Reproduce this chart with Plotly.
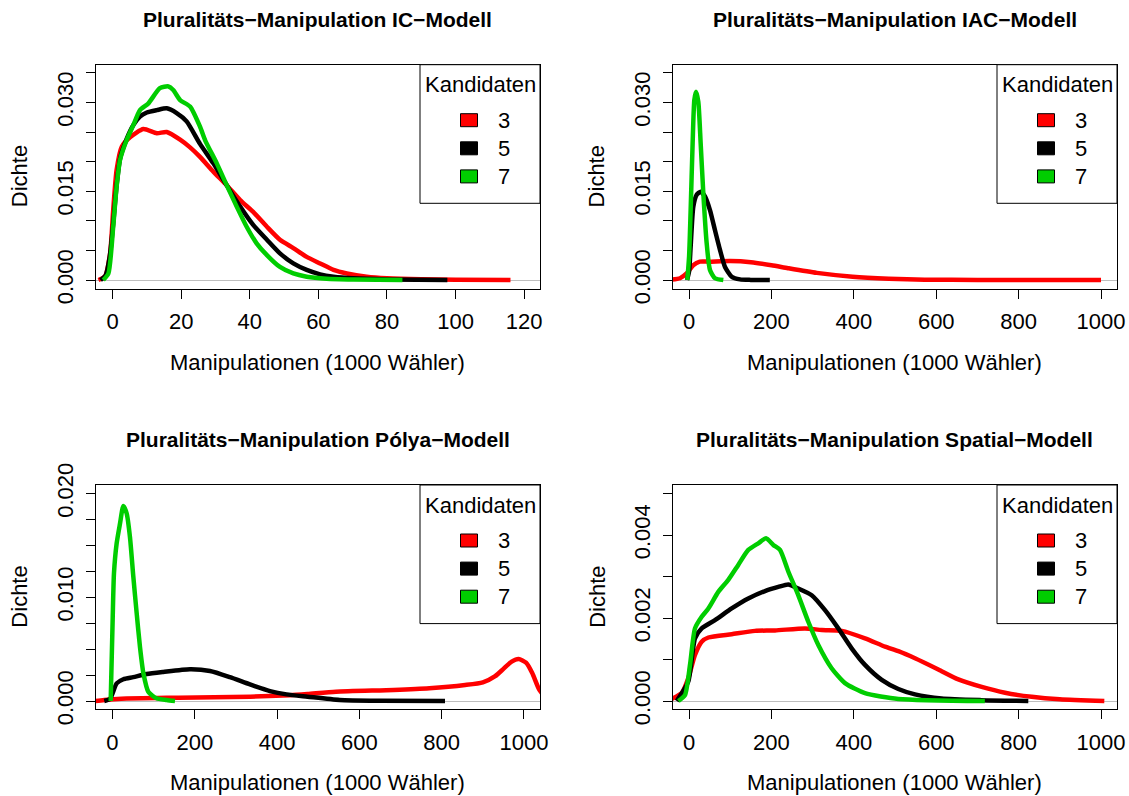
import plotly.graph_objects as go

W, H = 1129, 796

# ---------------- data ----------------
# IC model
ic_x3 = [-4.1, -2.2, -0.7, 0.2, 1.2, 2.7, 5.1, 9.0, 12.9, 15.8, 19.7, 22.6, 25.5, 29.4, 33.3, 37.2, 41.0,
         45.0, 48.8, 52.7, 56.6, 60.5, 64.4, 68.3, 74.1, 80, 90, 100, 116]
ic_y3 = [0, 0.0006, 0.0045, 0.0118, 0.0186, 0.0225, 0.0241, 0.0255, 0.0248, 0.0250, 0.0237, 0.0224, 0.0208,
         0.0183, 0.0160, 0.0135, 0.0115, 0.0090, 0.0068, 0.0054, 0.0039, 0.0028, 0.0017, 0.0011, 0.00056,
         0.0003, 0.00012, 0.00005, 0.0]
ic_x5 = [-3.5, -2.0, -0.8, 0.2, 1.2, 2.2, 4.1, 6.1, 8.0, 10.0, 12.9, 15.8, 18.7, 21.6, 25.5, 29.4, 33.3,
         37.2, 41.0, 45.0, 48.8, 52.7, 56.6, 60.5, 64.4, 70.2, 80, 97.6]
ic_y5 = [0, 0.0008, 0.0040, 0.0095, 0.0160, 0.0205, 0.0238, 0.0262, 0.0276, 0.0283, 0.0287, 0.0290, 0.0282,
         0.0268, 0.0230, 0.0197, 0.0160, 0.0124, 0.0093, 0.0068, 0.0045, 0.0028, 0.0017, 0.00096, 0.00056,
         0.00028, 0.0001, 0.0]
ic_x7 = [-2.7, -1.2, 0.2, 1.2, 2.2, 4.1, 6.1, 8.0, 10.4, 13.8, 16.3, 17.7, 19.7, 22.6, 25.5, 27.0, 30.4,
         33.3, 36.2, 39.1, 42.0, 45.0, 48.8, 52.7, 56.6, 62.4, 70.2, 84.5]
ic_y7 = [0, 0.0011, 0.0090, 0.0158, 0.0203, 0.0236, 0.0262, 0.0287, 0.0298, 0.0324, 0.0327, 0.0321, 0.0304,
         0.0293, 0.0259, 0.0236, 0.0197, 0.0160, 0.0124, 0.0090, 0.0062, 0.0042, 0.0022, 0.0011, 0.00056,
         0.00023, 0.0001, 0.0]

# IAC model
iac_x3 = [-45, -22, -6, 10, 26, 48, 100, 150, 200, 240, 310, 397, 485, 572, 700, 850, 1000]
iac_y3 = [0.00005, 0.0003, 0.0011, 0.0025, 0.0031, 0.0031, 0.0032, 0.0030, 0.0025, 0.0020, 0.0012, 0.00056,
          0.00023, 0.00006, 0.00002, 0.0, 0.0]
iac_x5 = [-5, 0, 3.8, 10.3, 18.4, 28.1, 38.6, 50.7, 62.9, 75.0, 87.2, 103.4, 123.6, 150, 196]
iac_y5 = [0, 0.0015, 0.0056, 0.0124, 0.0144, 0.0149, 0.0141, 0.0118, 0.0084, 0.0051, 0.0022, 0.00056,
          0.0001, 0.00002, 0]
iac_x7 = [-4.3, 0, 3.8, 8.6, 12.7, 16.8, 22.4, 28.1, 34.6, 42.7, 50.7, 62.9, 83.1]
iac_y7 = [0, 0.004, 0.0118, 0.0231, 0.0304, 0.0318, 0.0301, 0.0231, 0.0146, 0.0062, 0.0017, 0.0003, 0]

# Polya model
pol_x3 = [-42, -20, 21.7, 161, 335, 431, 474, 543, 683, 770, 857, 900, 930, 950, 970, 987, 1005, 1020,
          1037, 1060]
pol_y3 = [0, 0.0001, 0.00022, 0.00032, 0.00042, 0.00055, 0.00067, 0.0009, 0.00106, 0.00122, 0.00154, 0.0018,
          0.0024, 0.0031, 0.0038, 0.00405, 0.0037, 0.0027, 0.0011, 0.0]
pol_x5 = [-20, -6, 10.1, 26.3, 50.6, 83, 123.5, 188.3, 237, 285.5, 334, 382.7, 423, 474, 552, 650, 808]
pol_y5 = [0, 0.0002, 0.0017, 0.0021, 0.0023, 0.0026, 0.0028, 0.00306, 0.0029, 0.0023, 0.0016, 0.00096,
          0.00064, 0.00042, 0.0001, 0.00002, 0]
pol_x7 = [-4.4, 0.4, 3.6, 10.1, 18.2, 26.3, 34.4, 42.5, 50.6, 58.7, 66.8, 75, 87, 107, 131.7, 151.9]
pol_y7 = [0, 0.0078, 0.0123, 0.0152, 0.0171, 0.0188, 0.0181, 0.0158, 0.0120, 0.0085, 0.0052, 0.0027, 0.0009,
          0.00026, 0.0001, 0.0]

# Spatial model
sp_x3 = [-42, -18, -2, 14.3, 30.6, 46.8, 103.4, 160, 208.5, 281.4, 322, 370.5, 427, 475.6, 508, 548.4, 605,
         653.6, 710.4, 767, 831.8, 900, 1008]
sp_y3 = [0.00005, 0.00019, 0.00055, 0.00111, 0.00143, 0.00153, 0.00161, 0.00169, 0.0017, 0.00175, 0.00171,
         0.00169, 0.00151, 0.00131, 0.0012, 0.00103, 0.00076, 0.00052, 0.00034, 0.0002, 0.0001, 0.00004, 0.0]
sp_x5 = [-30, -2, 14.3, 30.6, 62.9, 103.4, 143.7, 184.3, 216.6, 240.8, 265, 297.6, 330, 362.2, 394.6, 427,
         467.6, 508, 548.4, 613, 710, 823.5]
sp_y5 = [0, 0.00047, 0.00151, 0.00175, 0.00195, 0.00223, 0.00247, 0.00265, 0.00275, 0.00281, 0.00271,
         0.00255, 0.00219, 0.00175, 0.00127, 0.00087, 0.00051, 0.00029, 0.00016, 0.00006, 0.00002, 0]
sp_x7 = [-26, -10, 2.2, 14.3, 30.6, 46.8, 70.9, 95.2, 119.4, 143.7, 168, 186.7, 204.4, 220.7, 240.8, 265,
         289.4, 313.7, 346, 378.5, 427, 508, 718]
sp_y7 = [0, 0.00014, 0.00087, 0.00175, 0.00203, 0.00223, 0.00263, 0.00292, 0.00328, 0.00364, 0.0038,
         0.00392, 0.00376, 0.00364, 0.00312, 0.00255, 0.00191, 0.00135, 0.00079, 0.00043, 0.00019, 0.00005, 0]

titles = ["Pluralitäts\u2212Manipulation IC\u2212Modell",
          "Pluralitäts\u2212Manipulation IAC\u2212Modell",
          "Pluralitäts\u2212Manipulation Pólya\u2212Modell",
          "Pluralitäts\u2212Manipulation Spatial\u2212Modell"]
x_label = "Manipulationen (1000 Wähler)"
y_label = "Dichte"
legend_title = "Kandidaten"
candidates = ["3", "5", "7"]
colors = ["#FF0000", "#000000", "#00CD00"]

x_ticks_ic = [0, 20, 40, 60, 80, 100, 120]
x_ticks_big = [0, 200, 400, 600, 800, 1000]
# labelled y ticks and all y tick marks
y_lab_a = [0, 0.015, 0.030]
y_txt_a = ["0.000", "0.015", "0.030"]
y_all_a = [0, 0.005, 0.010, 0.015, 0.020, 0.025, 0.030, 0.035]
y_lab_c = [0, 0.010, 0.020]
y_txt_c = ["0.000", "0.010", "0.020"]
y_all_c = [0, 0.0025, 0.005, 0.0075, 0.010, 0.0125, 0.015, 0.0175, 0.020]
y_lab_d = [0, 0.002, 0.004]
y_txt_d = ["0.000", "0.002", "0.004"]
y_all_d = [0, 0.001, 0.002, 0.003, 0.004, 0.005]

panels = [
    dict(series=[(ic_x3, ic_y3), (ic_x5, ic_y5), (ic_x7, ic_y7)], xr=[-4.9, 124.6], yr=[-0.00147, 0.03637],
         xt=x_ticks_ic, yl=y_lab_a, ytt=y_txt_a, ya=y_all_a),
    dict(series=[(iac_x3, iac_y3), (iac_x5, iac_y5), (iac_x7, iac_y7)], xr=[-39.3, 1038.8], yr=[-0.00147, 0.03637],
         xt=x_ticks_big, yl=y_lab_a, ytt=y_txt_a, ya=y_all_a),
    dict(series=[(pol_x3, pol_y3), (pol_x5, pol_y5), (pol_x7, pol_y7)], xr=[-40.8, 1038.9], yr=[-0.0008, 0.02083],
         xt=x_ticks_big, yl=y_lab_c, ytt=y_txt_c, ya=y_all_c),
    dict(series=[(sp_x3, sp_y3), (sp_x5, sp_y5), (sp_x7, sp_y7)], xr=[-39.3, 1038.8], yr=[-0.0002, 0.005205],
         xt=x_ticks_big, yl=y_lab_d, ytt=y_txt_d, ya=y_all_d),
]

# plot-region boxes in pixels (left, right, top, bottom)
boxes = [(95.7, 540.0, 64.7, 288.7), (672.9, 1117.0, 64.7, 288.7),
         (95.7, 540.0, 485.0, 709.3), (672.9, 1117.0, 485.0, 709.3)]

FONT = "Liberation Sans, Arial, Helvetica, sans-serif"
FS = 22


def px(x):
    return x / W


def py(y):
    return 1 - y / H


fig = go.Figure()
layout = dict(template="none", width=W, height=H, autosize=False,
              margin=dict(l=0, r=0, t=0, b=0, pad=0, autoexpand=False), paper_bgcolor="white",
              plot_bgcolor="white", showlegend=False, font=dict(family=FONT, size=FS, color="black"))
annotations = []
shapes = []

for i, (p, b) in enumerate(zip(panels, boxes)):
    n = "" if i == 0 else str(i + 1)
    L, R, T, B = b
    for (xs, ys), c in zip(p["series"], colors):
        fig.add_trace(go.Scatter(x=xs, y=ys, mode="lines",
                                 line=dict(color=c, width=4.5, shape="spline", smoothing=0.6),
                                 xaxis="x" + n, yaxis="y" + n, hoverinfo="skip"))
    layout["xaxis" + n] = dict(domain=[px(L), px(R)], range=p["xr"], anchor="y" + n, automargin=False,
                               tickmode="array", tickvals=p["xt"], ticktext=[str(v) for v in p["xt"]],
                               ticks="outside", ticklen=9, tickwidth=1, tickcolor="black",
                               showline=True, linecolor="black", linewidth=1, mirror=True,
                               showgrid=False, zeroline=False, tickfont=dict(size=FS, color="black"),
                               ticklabelstandoff=4)
    layout["yaxis" + n] = dict(domain=[py(B), py(T)], range=p["yr"], anchor="x" + n, automargin=False,
                               tickmode="array", tickvals=p["yl"], ticktext=p["ytt"], tickangle=-90,
                               ticks="outside", ticklen=9, tickwidth=1, tickcolor="black",
                               minor=dict(tickmode="array", tickvals=p["ya"], ticks="outside", ticklen=9,
                                          tickwidth=1, tickcolor="black", showgrid=False),
                               showline=True, linecolor="black", linewidth=1, mirror=True,
                               showgrid=False, zeroline=True, zerolinecolor="#BEBEBE", zerolinewidth=1,
                               tickfont=dict(size=FS, color="black"), ticklabelstandoff=4)
    cx = (L + R) / 2
    cy = (T + B) / 2
    annotations.append(dict(text="<b>" + titles[i] + "</b>", x=px(cx), y=py(T - 45), xref="paper", yref="paper",
                            showarrow=False, xanchor="center", yanchor="middle", font=dict(size=21)))
    annotations.append(dict(text=x_label, x=px(cx), y=py(B + 73.5), xref="paper", yref="paper",
                            showarrow=False, xanchor="center", yanchor="middle", font=dict(size=FS)))
    annotations.append(dict(text=y_label, x=px(L - 76.2), y=py(cy), xref="paper", yref="paper",
                            showarrow=False, xanchor="center", yanchor="middle", textangle=-90,
                            font=dict(size=FS)))
    # legend box
    shapes.append(dict(type="rect", xref="paper", yref="paper", x0=px(R - 120), x1=px(R),
                       y0=py(T + 138.6), y1=py(T), line=dict(color="black", width=1), fillcolor="white",
                       layer="above"))
    annotations.append(dict(text=legend_title, x=px(R - 60), y=py(T + 20.3), xref="paper", yref="paper",
                            showarrow=False, xanchor="center", yanchor="middle", font=dict(size=FS)))
    for k, (lab, c) in enumerate(zip(candidates, colors)):
        yc = T + 55.5 + 28.1 * k
        shapes.append(dict(type="rect", xref="paper", yref="paper", x0=px(R - 79.5), x1=px(R - 62.5),
                           y0=py(yc + 6.5), y1=py(yc - 6.5), line=dict(color="black", width=1),
                           fillcolor=c, layer="above"))
        annotations.append(dict(text=lab, x=px(R - 36), y=py(yc), xref="paper", yref="paper",
                                showarrow=False, xanchor="center", yanchor="middle", font=dict(size=FS)))

layout["annotations"] = annotations
layout["shapes"] = shapes
fig.update_layout(**layout)
fig.write_html("out.html")
